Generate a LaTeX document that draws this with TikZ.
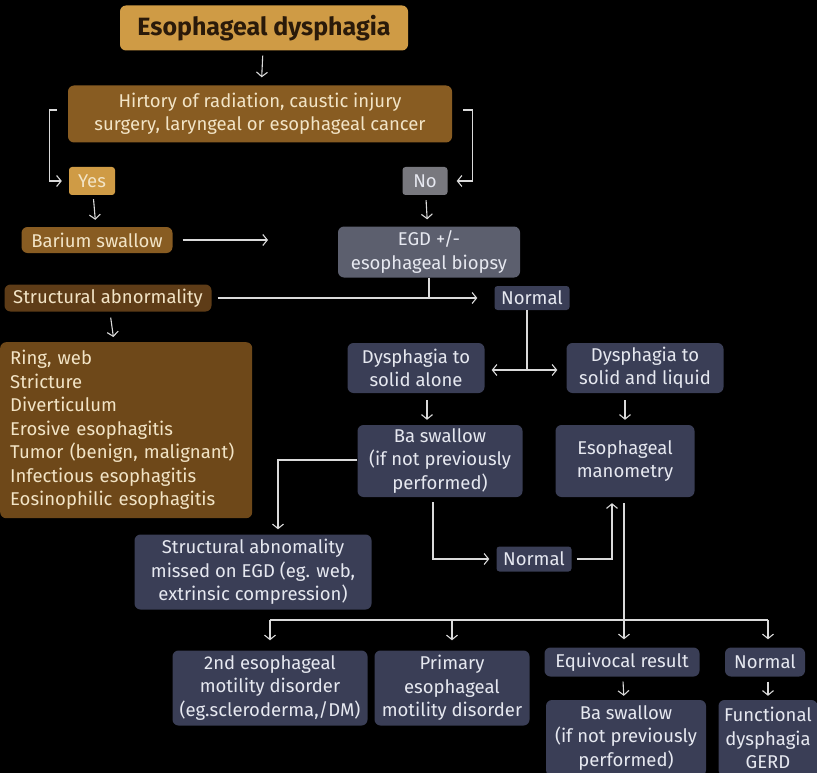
\documentclass[tikz,border=0pt]{standalone}
\usepackage{fontspec}
\setmainfont{Fira Sans}
\usetikzlibrary{arrows.meta,calc}

\definecolor{gold}{HTML}{CF9B45}
\definecolor{goldtext}{HTML}{2A1A0A}
\definecolor{brownA}{HTML}{885C22}
\definecolor{brownB}{HTML}{5E3C17}
\definecolor{brownC}{HTML}{6E4819}
\definecolor{cream}{HTML}{F2E4C6}
\definecolor{greyA}{HTML}{78787E}
\definecolor{slate}{HTML}{5C5F6E}
\definecolor{navy}{HTML}{3A3E56}
\definecolor{pale}{HTML}{E6E8F0}
\definecolor{wire}{HTML}{DADADA}

\tikzset{
  base/.style={rounded corners=6pt, inner sep=0pt, align=center,
    font=\fontsize{18.5}{23.5}\selectfont},
  goldbox/.style={base, fill=gold, text=goldtext},
  brownbox/.style={base, fill=brownA, text=cream},
  darkbrown/.style={base, fill=brownB, text=cream},
  greybox/.style={base, fill=greyA, text=pale},
  slatebox/.style={base, fill=slate, text=pale},
  navybox/.style={base, fill=navy, text=pale},
  tip/.style={-{Straight Barb[length=4.5pt,width=11pt,line width=1.1pt]}},
  arr/.style={draw=wire, line width=1.1pt, tip},
  wireline/.style={draw=wire, line width=1.1pt},
}

\begin{document}
\begin{tikzpicture}[x=1pt,y=-1pt]
\fill[black] (0,0) rectangle (817,773);
\useasboundingbox (0,0) rectangle (817,773);

% ---- nodes ----
\node[goldbox, minimum width=288, minimum height=45, font=\fontsize{25}{28}\selectfont\bfseries] (title) at (264,28) {Esophageal dysphagia};
\node[brownbox, minimum width=384, minimum height=57] (hist) at (260,114) {Hirtory of radiation, caustic injury\\surgery, laryngeal or esophageal cancer};
\node[goldbox, text=cream, rounded corners=3pt, minimum width=46, minimum height=28] (yes) at (92,181) {Yes};
\node[greybox, rounded corners=3pt, minimum width=45, minimum height=28] (no) at (425,181) {No};
\node[brownbox, minimum width=151, minimum height=26] (barium) at (97,240) {Barium swallow};
\node[slatebox, minimum width=182, minimum height=51] (egd) at (429,252) {EGD +/-\\esophageal biopsy};
\node[darkbrown, minimum width=207, minimum height=27] (struct) at (108,298) {Structural abnormality};
\node[navybox, rounded corners=3pt, minimum width=75, minimum height=24] (normA) at (532,298) {Normal};
\node[navybox, minimum width=137, minimum height=50] (solidA) at (416,368) {Dysphagia to\\solid alone};
\node[navybox, minimum width=157, minimum height=50] (solidL) at (645,368) {Dysphagia to\\solid and liquid};
\node[base, fill=brownC, text=cream, align=left, anchor=north west, text width=232, inner xsep=10pt, minimum height=176] (list) at (0,342)
  {Ring, web\\Stricture\\Diverticulum\\Erosive esophagitis\\Tumor (benign, malignant)\\Infectious esophagitis\\Eosinophilic esophagitis};
\node[navybox, minimum width=165, minimum height=72] (baA) at (440,461) {Ba swallow\\(if not previously\\performed)};
\node[navybox, minimum width=139, minimum height=72] (mano) at (625,461) {Esophageal\\manometry};
\node[navybox, minimum width=237, minimum height=75] (missed) at (253,572) {Structural abnomality\\missed on EGD (eg. web,\\extrinsic compression)};
\node[navybox, rounded corners=3pt, minimum width=75, minimum height=25] (normB) at (534,559) {Normal};
\node[navybox, minimum width=195, minimum height=75] (sec) at (270,688) {2nd esophageal\\motility disorder\\(eg.scleroderma,/DM)};
\node[navybox, minimum width=155, minimum height=75] (prim) at (452,688) {Primary\\esophageal\\motility disorder};
\node[navybox, minimum width=155, minimum height=29] (equiv) at (622,662) {Equivocal result};
\node[navybox, minimum width=80, minimum height=29] (normC) at (765,662) {Normal};
\node[navybox, minimum width=160, minimum height=76] (baB) at (626,738) {Ba swallow\\(if not previously\\performed)};
\node[navybox, minimum width=99, minimum height=76] (func) at (768,738) {Functional\\dysphagia\\GERD};

% ---- free end and junction points ----
\coordinate (bariumEnd) at (268,240);
\coordinate (egdJoin) at (429,298);
\coordinate (split) at (527,370);
\coordinate (bar) at (624,620);
\coordinate (barL) at (270,620);
\coordinate (barM) at (452,620);
\coordinate (barR) at (768,620);

% ---- connectors ----
\draw[arr, shorten <=5pt, shorten >=8pt] (title) -- (hist);
\draw[arr, shorten >=7pt] ($(hist.west)+(-11,-4)$) -- ++(-7,0) |- (yes.west);
\draw[arr, shorten >=9pt] ($(hist.east)+(11,-4)$) -- ++(9,0) |- (no.east);
\draw[arr, shorten <=4pt, shorten >=7pt] (yes) -- (barium);
\draw[arr, shorten <=5pt, shorten >=7pt] (no) -- (egd);
\draw[arr, shorten <=10pt] (barium.east) -- (bariumEnd);
\draw[wireline] (egd.south) -- (egdJoin);
\draw[arr, shorten <=6pt, shorten >=17pt] (struct.east) -- (normA.west);
\draw[arr, shorten <=6pt, shorten >=5pt] (struct) -- (list);
\draw[wireline] (normA.south -| split) -- (split);
\draw[arr, shorten >=7pt] (split) -- (solidA.east |- split);
\draw[arr, shorten >=9pt] (split) -- (solidL.west |- split);
\draw[arr, shorten <=7pt, shorten >=5pt] (solidA.south -| 427,0) -- (baA.north -| 427,0);
\draw[arr, shorten <=7pt, shorten >=5pt] (solidL.south -| 625,0) -- (mano.north -| 625,0);
\draw[arr, shorten >=5pt] (baA.west |- 0,460) -| (missed.north -| 278,0);
\draw[arr, shorten <=5pt, shorten >=7pt] (baA.south -| 433,0) |- (normB.west);
\draw[arr, shorten <=5pt, shorten >=6pt] (normB.east) -| (mano.south -| 612,0);
\draw[wireline, shorten <=6pt] (mano.south -| bar) -- (bar);
\draw[wireline] (barL) -- (barR);
\draw[arr, shorten >=8pt] (bar) -- (equiv.north -| bar);
\draw[arr, shorten >=10pt] (barL) -- (sec.north -| barL);
\draw[arr, shorten >=10pt] (barM) -- (prim.north -| barM);
\draw[arr, shorten >=8pt] (barR) -- (normC.north -| barR);
\draw[arr, shorten <=5pt, shorten >=4pt] (equiv) -- (baB);
\draw[arr, shorten <=5pt, shorten >=4pt] (normC.south -| barR) -- (func.north -| barR);
\end{tikzpicture}
\end{document}
